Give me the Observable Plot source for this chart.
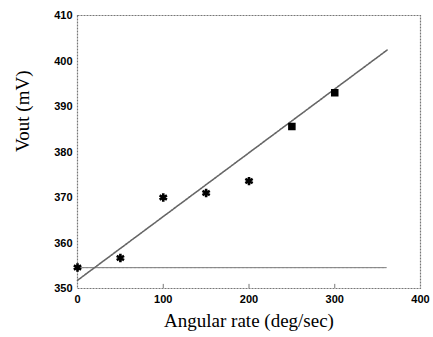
<!DOCTYPE html>
<html>
<head>
<meta charset="utf-8">
<script src="https://cdn.jsdelivr.net/npm/d3@7"></script>
<script src="https://cdn.jsdelivr.net/npm/@observablehq/plot@0.6"></script>
<style>
  html, body { margin: 0; padding: 0; background: #fff; }
  #chart svg { display: block; }
</style>
</head>
<body>
<div id="chart"></div>
<script>
// Measured points
const rate = [0, 50, 100, 150, 200, 250, 300];
const vout = [354.6, 356.7, 370.0, 371.0, 373.6, 385.6, 393.0];
const marker = ["asterisk", "asterisk", "asterisk", "asterisk", "asterisk", "square", "square"];
// Fitted line endpoints
const fitX = [0, 361];
const fitY = [351.8, 402.4];
// Zero-rate reference line
const refX = [0, 360];
const refY = [354.6, 354.6];
// Ticks
const xTicks = [0, 100, 200, 300, 400];
const yTicks = [350, 360, 370, 380, 390, 400, 410];
const xLabel = "Angular rate (deg/sec)";
const yLabel = "Vout (mV)";

const pts = rate.map((r, i) => ({rate: r, vout: vout[i], marker: marker[i]}));
const fit = fitX.map((x, i) => ({x, y: fitY[i]}));
const ref = refX.map((x, i) => ({x, y: refY[i]}));

const chart = Plot.plot({
  width: 433,
  height: 337,
  marginLeft: 77,
  marginRight: 13,
  marginTop: 15,
  marginBottom: 49,
  style: {background: "#fff", color: "#000"},
  x: {domain: [0, 400]},
  y: {domain: [350, 410]},
  symbol: {domain: ["asterisk", "square"], range: ["asterisk", "square"]},
  marks: [
    Plot.frame({stroke: "#777", strokeDasharray: "2,1", strokeWidth: 1.2}),
    Plot.line(ref, {x: "x", y: "y", stroke: "#888", strokeWidth: 1.2, strokeDasharray: "3,1"}),
    Plot.line(fit, {x: "x", y: "y", stroke: "#666", strokeWidth: 1.6, strokeDasharray: "2,1"}),
    Plot.dot(pts.filter(d => d.marker === "asterisk"), {x: "rate", y: "vout", symbol: "marker", r: 4, stroke: "#000", strokeWidth: 2.6}),
    Plot.dot(pts.filter(d => d.marker === "square"), {x: "rate", y: "vout", symbol: "marker", r: 3.4, fill: "#000", stroke: "#000"}),
    Plot.axisX({ticks: xTicks, tickSize: 0, tickPadding: 7, label: null, fontSize: 11, fontWeight: "bold", fontFamily: "Liberation Sans, Arial, sans-serif", tickFormat: d => d}),
    Plot.ruleX(xTicks.slice(1, -1), {x: d => d, y1: 350, y2: 350.9, stroke: "#777"}),
    Plot.axisY({ticks: yTicks, tickSize: 0, tickPadding: 5, label: null, fontSize: 11, fontWeight: "bold", fontFamily: "Liberation Sans, Arial, sans-serif", tickFormat: d => d}),
    Plot.text([xLabel], {frameAnchor: "bottom", dy: 38, fontSize: 19, fontFamily: "Liberation Serif, Times New Roman, serif", fill: "#000", text: d => d}),
    Plot.text([yLabel], {frameAnchor: "left", dx: -55, rotate: -90, fontSize: 19, fontFamily: "Liberation Serif, Times New Roman, serif", fill: "#000", text: d => d})
  ]
});
document.getElementById("chart").appendChild(chart);
</script>
</body>
</html>
